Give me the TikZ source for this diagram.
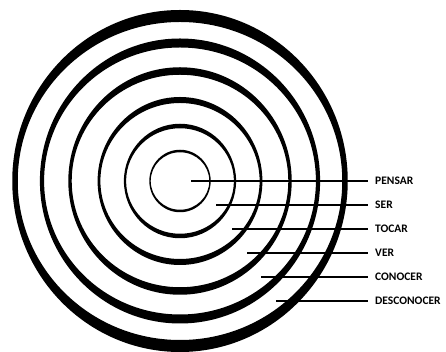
\documentclass[tikz,border=0pt]{standalone}
\usepackage{fontspec}
\setmainfont{Carlito}
\usetikzlibrary{positioning}

\begin{document}
\begin{tikzpicture}[x=1pt, y=1pt, node distance=24pt,
  every node/.style={font=\bfseries\fontsize{11.5}{12}\selectfont, inner xsep=7pt, inner ysep=0pt, anchor=west},
  lead/.style={line width=1.6pt}]
  \useasboundingbox (0,0) rectangle (446,352);
  \coordinate (c) at (180,171);
  % rings, thicker at top and bottom
  \foreach \r/\h/\v in {30/1.4/2.5, 55/2.2/4.5, 81/2.8/6, 110/3.4/7.5, 138/4.2/9, 165/5.5/12}
    \fill[even odd rule] (c) ellipse [x radius=\r+\h/2, y radius=\r+\v/2]
                         (c) ellipse [x radius=\r-\h/2, y radius=\r-\v/2];
  % labels
  \node (pensar) at (368,171) {PENSAR};
  \node (ser) [below=of pensar.west, anchor=west] {SER};
  \node (tocar) [below=of ser.west, anchor=west] {TOCAR};
  \node (ver) [below=of tocar.west, anchor=west] {VER};
  \node (conocer) [below=of ver.west, anchor=west] {CONOCER};
  \node (desconocer) [below=of conocer.west, anchor=west] {DESCONOCER};
  % leader ends inside the rings
  \coordinate (pensar-in) at (191,171);
  \coordinate (ser-in) at (216,147);
  \coordinate (tocar-in) at (232,123);
  \coordinate (ver-in) at (247,99);
  \coordinate (conocer-in) at (261,75);
  \coordinate (desconocer-in) at (276,51);
  \draw[lead] (pensar-in) -- (pensar.west);
  \draw[lead] (ser-in) -- (ser.west);
  \draw[lead] (tocar-in) -- (tocar.west);
  \draw[lead] (ver-in) -- (ver.west);
  \draw[lead] (conocer-in) -- (conocer.west);
  \draw[lead] (desconocer-in) -- (desconocer.west);
\end{tikzpicture}
\end{document}
